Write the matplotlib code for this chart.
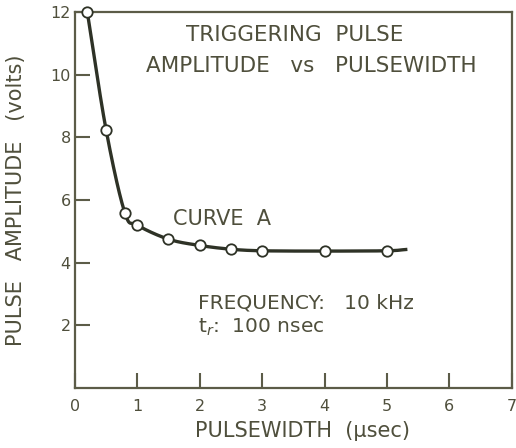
import matplotlib.pyplot as plt
import numpy as np

# measured points (pulsewidth in usec, amplitude in volts)
pulsewidth = [0.2, 0.5, 0.8, 1.0, 1.5, 2.0, 2.5, 3.0, 4.0, 5.0]
amplitude = [12.0, 8.25, 5.6, 5.2, 4.75, 4.55, 4.43, 4.38, 4.37, 4.38]
# the drawn curve runs a little past the last point
curve_end_x = 5.3
curve_end_y = 4.42

x_ticks = [0, 1, 2, 3, 4, 5, 6, 7]
y_ticks = [2, 4, 6, 8, 10, 12]

text_col = "#4f4f3c"
line_col = "#2e3226"
spine_col = "#5c5c48"


def catmull_rom(xs, ys, n=30):
    # smooth curve through the given points, for drawing only
    px = np.concatenate([[2 * xs[0] - xs[1]], xs, [2 * xs[-1] - xs[-2]]])
    py = np.concatenate([[2 * ys[0] - ys[1]], ys, [2 * ys[-1] - ys[-2]]])
    out_x, out_y = [], []
    t = np.linspace(0, 1, n)
    for i in range(1, len(px) - 2):
        for arr, out in ((px, out_x), (py, out_y)):
            p0, p1, p2, p3 = arr[i - 1], arr[i], arr[i + 1], arr[i + 2]
            out.extend(0.5 * ((2 * p1) + (-p0 + p2) * t
                              + (2 * p0 - 5 * p1 + 4 * p2 - p3) * t ** 2
                              + (-p0 + 3 * p1 - 3 * p2 + p3) * t ** 3))
    return np.array(out_x), np.array(out_y)


cx, cy = catmull_rom(np.array(pulsewidth + [curve_end_x]),
                     np.array(amplitude + [curve_end_y]))

fig = plt.figure(figsize=(5.16, 4.48), dpi=100)
ax = fig.add_axes([0.145, 0.134, 0.847, 0.839])

ax.plot(cx, cy, color=line_col, lw=2.4, zorder=2)
ax.plot(pulsewidth, amplitude, "o", ms=7.5, mfc="white", mec=line_col,
        mew=1.3, zorder=3, clip_on=False)

ax.set_xlim(0, 7)
ax.set_ylim(0, 12)
ax.set_xticks(x_ticks)
ax.set_yticks(y_ticks)
ax.tick_params(direction="in", length=11, width=1.5, color=spine_col,
               labelcolor=text_col, labelsize=11.5)
ax.tick_params(axis="x", pad=8)
ax.tick_params(axis="y", pad=3)
for s in ax.spines.values():
    s.set_color(spine_col)
    s.set_linewidth(1.6)

ax.set_xlabel("PULSEWIDTH  (μsec)", fontsize=15, color=text_col)
ax.xaxis.set_label_coords(0.52, -0.088)
ax.set_ylabel("PULSE   AMPLITUDE   (volts)", fontsize=15, color=text_col)
ax.yaxis.set_label_coords(-0.112, 0.5)

ax.text(3.52, 11.26, "TRIGGERING  PULSE", ha="center", va="center",
        fontsize=15.5, color=text_col)
ax.text(3.78, 10.27, "AMPLITUDE   vs   PULSEWIDTH", ha="center", va="center",
        fontsize=15.5, color=text_col)
ax.text(1.57, 5.4, "CURVE  A", ha="left", va="center", fontsize=15,
        color=text_col)
ax.text(1.98, 2.72, "FREQUENCY:   10 kHz", ha="left", va="center",
        fontsize=14.5, color=text_col)
ax.text(1.98, 1.92, "t$_r$:  100 nsec", ha="left", va="center",
        fontsize=14.5, color=text_col)

fig.savefig("out.png", dpi=100)
